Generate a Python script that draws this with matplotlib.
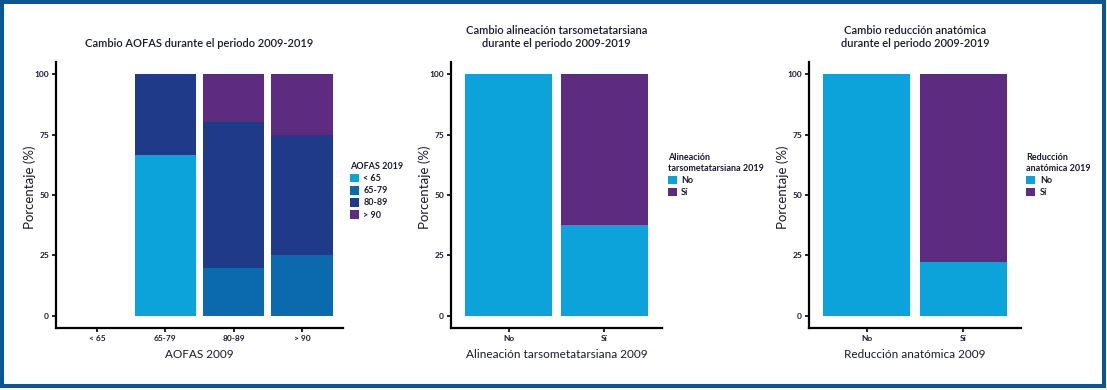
import numpy as np
import matplotlib
matplotlib.use("Agg")
import matplotlib.pyplot as plt
from matplotlib.patches import Patch, Rectangle

plt.rcParams['font.family'] = ['Lato', 'DejaVu Sans']

# datos
aofas_2009 = ['< 65', '65-79', '80-89', '> 90']
aofas_2019 = ['< 65', '65-79', '80-89', '> 90']
# porcentaje de cada categoria 2019 (columnas) dentro de cada categoria 2009 (filas)
aofas_pct = np.array([
    [0.0, 0.0, 0.0, 0.0],
    [66.7, 0.0, 33.3, 0.0],
    [0.0, 20.0, 60.0, 20.0],
    [0.0, 25.0, 50.0, 25.0],
])

alin_2009 = ['No', 'Sí']
alin_2019 = ['No', 'Sí']
alin_pct = np.array([
    [100.0, 0.0],
    [37.5, 62.5],
])

red_2009 = ['No', 'Sí']
red_2019 = ['No', 'Sí']
red_pct = np.array([
    [100.0, 0.0],
    [22.2, 77.8],
])

col4 = ['#0ba3d9', '#0b6aae', '#1f3a89', '#5d2b80']
col2 = ['#0ba3d9', '#5d2b80']
txt = '#1a1a2e'

fig = plt.figure(figsize=(11.07, 3.9), dpi=100)


def panel(rect, cats, legs, pct, colors, title, xlabel, legtitle, legpos):
    ax = fig.add_axes(rect)
    x = np.arange(len(cats))
    bottom = np.zeros(len(cats))
    for j in range(pct.shape[1]):
        ax.bar(x, pct[:, j], bottom=bottom, width=0.9, color=colors[j], linewidth=0)
        bottom += pct[:, j]
    ax.set_xlim(-0.6, len(cats) - 0.4)
    ax.set_ylim(-5, 105)
    ax.set_yticks([0, 25, 50, 75, 100])
    ax.set_xticks(x)
    ax.set_xticklabels(cats)
    for s in ['top', 'right']:
        ax.spines[s].set_visible(False)
    for s in ['left', 'bottom']:
        ax.spines[s].set_linewidth(1.6)
        ax.spines[s].set_color('black')
    ax.tick_params(length=3, width=1.2, labelsize=6, labelcolor=txt, pad=2)
    for lab in ax.get_xticklabels() + ax.get_yticklabels():
        lab.set_fontweight('bold')
    ax.set_ylabel('Porcentaje (%)', fontsize=9.5, color=txt)
    # etiqueta y a ~20 px del eje
    ax.yaxis.set_label_coords(-20 / (rect[2] * 1107), 0.53)
    ax.set_xlabel(xlabel, fontsize=8.5, color=txt, labelpad=5)
    ax.set_title(title, fontsize=8, color=txt, pad=11, fontweight='semibold')
    handles = [Patch(facecolor=c, edgecolor='none') for c in colors]
    leg = fig.legend(handles, legs, title=legtitle, loc='upper left',
                     bbox_to_anchor=legpos, frameon=False, fontsize=6.5,
                     title_fontsize=6.5, handlelength=1.0, handleheight=1.1,
                     handletextpad=0.5, labelspacing=0.3, borderpad=0,
                     alignment='left')
    leg.get_title().set_fontweight('bold')
    leg.get_title().set_color(txt)
    for t in leg.get_texts():
        t.set_fontweight('bold')
        t.set_color(txt)
    return ax


panel([0.0506, 0.159, 0.2593, 0.682], aofas_2009, aofas_2019, aofas_pct, col4,
      'Cambio AOFAS durante el periodo 2009-2019', 'AOFAS 2009', 'AOFAS 2019',
      (0.312, 0.596))
panel([0.4074, 0.159, 0.1906, 0.682], alin_2009, alin_2019, alin_pct, col2,
      'Cambio alineación tarsometatarsiana\ndurante el periodo 2009-2019',
      'Alineación tarsometatarsiana 2009', 'Alineación\ntarsometatarsiana 2019',
      (0.599, 0.618))
panel([0.7308, 0.159, 0.1915, 0.682], red_2009, red_2019, red_pct, col2,
      'Cambio reducción anatómica\ndurante el periodo 2009-2019',
      'Reducción anatómica 2009', 'Reducción\nanatómica 2019',
      (0.923, 0.618))

# marco azul
fig.patches.append(Rectangle((2 / 1107, 4 / 390), 1102 / 1107, 384 / 390,
                             transform=fig.transFigure, fill=False,
                             edgecolor='#0a5694', linewidth=2.9))

fig.savefig('out.png', dpi=100)
